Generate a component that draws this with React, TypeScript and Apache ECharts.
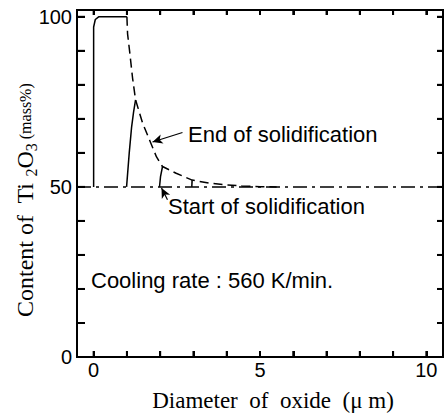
import React, { useEffect, useRef } from "react";
import * as echarts from "echarts";

const xTicks = [0, 1, 2, 3, 4, 5, 6, 7, 8, 9, 10];
const xLabels = [0, 5, 10];
const yTicks = [0, 10, 20, 30, 40, 50, 60, 70, 80, 90, 100];
const yLabels = [0, 50, 100];
const xRange = [-0.5, 10.5];
const yRange = [0, 102];

const baseline: number[][] = [[-0.5, 50], [10.5, 50]];
const plateau: number[][] = [[0, 50], [0, 97], [0.05, 99.2], [0.15, 100], [1.0, 100]];
const endCurve: number[][] = [
  [1.0, 100], [1.02, 95], [1.08, 90], [1.17, 82], [1.26, 75.6], [1.47, 68.8],
  [1.68, 63.8], [1.89, 58.8], [2.07, 56], [2.48, 54], [2.96, 52], [3.47, 51.1],
  [4.0, 50.6], [4.46, 50.3], [5.0, 50.05], [5.5, 50],
];
const rise1: number[][] = [[0.99, 50], [1.07, 60], [1.14, 67.5], [1.2, 72], [1.26, 75.6]];
const rise2: number[][] = [[1.98, 50], [2.01, 53], [2.07, 56]];
const rise3: number[][] = [[2.95, 50], [2.96, 52]];
const endArrow = [[2.67, 66], [1.77, 63.2]];
const startArrow = [[2.22, 46.2], [2.04, 49.7]];

const SANS = "'Liberation Sans', Arial, sans-serif";
const SERIF = "'Liberation Serif', 'Times New Roman', serif";
const INK = "#000";

export default function App() {
  const ref = useRef<HTMLDivElement>(null);
  useEffect(() => {
    if (!ref.current) return;
    const chart = echarts.init(ref.current, null, { renderer: "svg" });
    const lineSeries = (data: number[][], type: any) => ({
      type: "line",
      data,
      symbol: "none",
      silent: true,
      lineStyle: { color: "#000", width: 1.5, type },
    });
    const mkAxis = (pos: string, range: number[], ticks: number[], len: number, labels: number[] | null, margin: number) => ({
      type: "value", min: range[0], max: range[1], position: pos,
      axisLine: { show: true, onZero: false, lineStyle: { color: INK, width: 2 } },
      axisTick: { show: true, inside: true, length: len, customValues: ticks, lineStyle: { color: INK, width: 2 } },
      axisLabel: labels
        ? { show: true, customValues: labels, fontSize: 20, color: "#000", fontFamily: SANS, margin }
        : { show: false },
      splitLine: { show: false },
    });
    chart.setOption({
      animation: false,
      grid: { left: 77, top: 10, width: 366, height: 347, show: true, borderColor: INK, borderWidth: 2 },
      xAxis: [
        mkAxis("bottom", xRange, xTicks, 6, xLabels, 3),
        mkAxis("top", xRange, xTicks, 5, null, 0),
      ],
      yAxis: [
        mkAxis("left", yRange, yTicks, 8, yLabels, 5),
        mkAxis("right", yRange, yTicks, 6, null, 0),
      ],
      series: [
        {
          ...lineSeries(baseline, [14, 5, 3, 5]),
          markLine: {
            silent: true,
            symbol: ["none", "arrow"],
            symbolSize: [7, 10],
            label: { show: false },
            lineStyle: { color: "#000", width: 1.2, type: "solid" },
            data: [
              [{ coord: endArrow[0] }, { coord: endArrow[1] }],
              [{ coord: startArrow[0] }, { coord: startArrow[1] }],
            ],
          },
        },
        lineSeries(plateau, "solid"),
        lineSeries(endCurve, [9, 5]),
        lineSeries(rise1, "solid"),
        lineSeries(rise2, "solid"),
        lineSeries(rise3, "solid"),
      ],
    });

    const px = (x: number, y: number) =>
      chart.convertToPixel({ xAxisIndex: 0, yAxisIndex: 0 }, [x, y]) as number[];
    const [l, t] = px(xRange[0], yRange[1]);
    const [r, b] = px(xRange[1], yRange[0]);
    const stroke = { stroke: INK, lineWidth: 2 };
    const frame: any[] = [
      { type: "polyline", shape: { points: [[l, t], [r, t], [r, b], [l, b], [l, t]] }, style: { ...stroke, fill: null }, z: 10 },
    ];
    xTicks.forEach((v) => {
      const [xp] = px(v, 0);
      frame.push({ type: "line", shape: { x1: xp, y1: b, x2: xp, y2: b - 6 }, style: stroke, z: 10 });
      frame.push({ type: "line", shape: { x1: xp, y1: t, x2: xp, y2: t + 5 }, style: stroke, z: 10 });
    });
    yTicks.forEach((v) => {
      const [, yp] = px(0, v);
      frame.push({ type: "line", shape: { x1: l, y1: yp, x2: l + 8, y2: yp }, style: stroke, z: 10 });
      frame.push({ type: "line", shape: { x1: r, y1: yp, x2: r - 6, y2: yp }, style: stroke, z: 10 });
    });

    chart.setOption({
      graphic: [
        ...frame,
        {
          type: "text", x: 188, y: 134,
          style: { text: "End of solidification", font: `22px ${SANS}`, fill: "#000", verticalAlign: "middle" },
        },
        {
          type: "text", x: 168, y: 206,
          style: { text: "Start of solidification", font: `22px ${SANS}`, fill: "#000", verticalAlign: "middle" },
        },
        {
          type: "text", x: 91, y: 280,
          style: { text: "Cooling rate : 560 K/min.", font: `22px ${SANS}`, fill: "#000", verticalAlign: "middle" },
        },
        {
          type: "text", x: 273, y: 400,
          style: { text: "Diameter  of  oxide  (\u03bc m)", font: `23px ${SERIF}`, fill: "#000", align: "center", verticalAlign: "middle" },
        },
        {
          type: "text", x: 25, y: 317, rotation: Math.PI / 2,
          style: {
            text: "{a|Content of  Ti }{s|2}{a|O}{s|3}{m| (mass%)}",
            fill: "#000", align: "left", verticalAlign: "middle",
            font: `24px ${SERIF}`,
            rich: {
              a: { fontSize: 24, fontFamily: SERIF, lineHeight: 28, fill: "#000" },
              s: { fontSize: 16, fontFamily: SERIF, lineHeight: 16, verticalAlign: "bottom", fill: "#000" },
              m: { fontSize: 16, fontFamily: SERIF, lineHeight: 28, fill: "#000" },
            },
          },
        },
      ],
    });
    return () => chart.dispose();
  }, []);
  return <div ref={ref} style={{ position: "absolute", left: 0, top: 0, width: 444, height: 414 }} />;
}
